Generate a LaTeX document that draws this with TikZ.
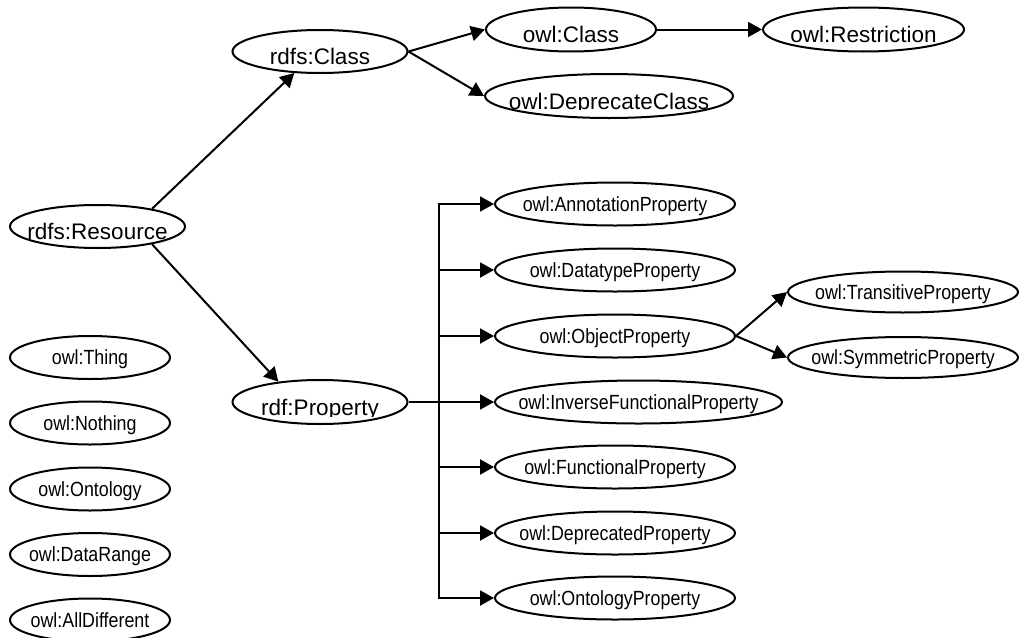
\documentclass[tikz,border=0pt]{standalone}
\usepackage{fontspec}
\setmainfont{Liberation Sans}
\newfontfamily\narrowsans{Liberation Sans}[FakeStretch=0.87]
\usetikzlibrary{arrows.meta,shapes.geometric,calc}

% centred label whose baseline sits a fixed distance below the node centre
\newcommand\entB[1]{\raisebox{-13pt}{\makebox[0pt]{#1}}}
\newcommand\entS[1]{\raisebox{-7.4pt}{\makebox[0pt]{#1}}}

\tikzset{
  ent/.style={draw, ellipse, line width=2pt, inner sep=0pt,
              text height=0pt, text depth=0pt},
  bigent/.style={ent, font=\fontsize{22.5pt}{26pt}\selectfont,
                 minimum width=175pt, minimum height=43pt},
  smallent/.style={ent, font=\narrowsans\fontsize{20.5pt}{24pt}\selectfont,
                   minimum width=240pt, minimum height=43pt},
  lonely/.style={smallent, minimum width=160pt},
  txt/.style={inner sep=0pt, text height=0pt, text depth=0pt,
              font=\fontsize{22.5pt}{26pt}\selectfont},
  arr/.style={line width=2pt, -{Triangle[length=14pt,width=15pt]}},
  ln/.style={line width=2pt}
}

\begin{document}
\begin{tikzpicture}[x=1pt, y=-1pt]
\useasboundingbox (0,0) rectangle (1019,637);

% --- class hierarchy -------------------------------------------------
\node[bigent] (res) at (97.5,226.5) {\entB{rdfs:Resource}};
\node[bigent] (cls) at (320,51.5) {\entB{rdfs:Class}};
\node[bigent, minimum width=170pt, minimum height=44pt] (owlcls) at (571,29.5) {\entB{owl:Class}};
\node[bigent, minimum width=201pt, minimum height=44pt] (restr) at (863.5,29.5) {\entB{owl:Restriction}};
\node[bigent, minimum width=248pt, minimum height=44pt] (depr) at (609,96) {};
\begin{scope}
  \clip ([xshift=-130pt,yshift=30pt]depr.center) rectangle ([xshift=130pt,yshift=-13pt]depr.center);
  \node[txt] (deprLabel) at (depr.center) {\entB{owl:DeprecateClass}};
\end{scope}

% --- property node ---------------------------------------------------
\node[bigent, minimum height=44pt] (prop) at (320,402) {};
\begin{scope}
  \clip ([xshift=-100pt,yshift=30pt]prop.center) rectangle ([xshift=100pt,yshift=-14pt]prop.center);
  \node[txt] (propLabel) at (prop.center) {\entB{rdf:Property}};
\end{scope}

% --- property subclasses ---------------------------------------------
\node[smallent] (ann) at (615,204) {\entS{owl:AnnotationProperty}};
\node[smallent] (dtp) at (615,270) {\entS{owl:DatatypeProperty}};
\node[smallent] (obj) at (615,336) {\entS{owl:ObjectProperty}};
\node[smallent, minimum width=287pt] (ifp) at (638.5,402) {\entS{owl:InverseFunctionalProperty}};
\node[smallent] (fp) at (615,467) {\entS{owl:FunctionalProperty}};
\node[smallent] (dp) at (615,533) {\entS{owl:DeprecatedProperty}};
\node[smallent] (op) at (615,598) {\entS{owl:OntologyProperty}};
\node[smallent, minimum width=230pt, minimum height=41pt] (trans) at (903,292) {\entS{owl:TransitiveProperty}};
\node[smallent, minimum width=230pt, minimum height=41pt] (sym) at (903,357.5) {\entS{owl:SymmetricProperty}};

% --- unconnected built-ins -------------------------------------------
\node[lonely] (thing) at (90,357.5) {\entS{owl:Thing}};
\node[lonely] (nothing) at (90,423) {\entS{owl:Nothing}};
\node[lonely] (onto) at (90,489) {\entS{owl:Ontology}};
\node[lonely] (drange) at (90,554.5) {\entS{owl:DataRange}};
\node[lonely] (alldiff) at (90,620) {\entS{owl:AllDifferent}};

% --- connectors ------------------------------------------------------
\draw[arr] (res.18) -- (cls.220);
\draw[arr] (res.-18) -- (prop.154);
\draw[arr] (cls.east) -- (owlcls.west);
\draw[arr] (cls.east) -- (depr.west);
\draw[arr] (owlcls.east) -- (restr.west);

\coordinate (trunk) at (439,0);
\draw[ln] (prop.east) -- (prop.east -| trunk);
\draw[arr] (op.west -| trunk) |- (ann.west);
\draw[arr] (ann.west -| trunk) |- (op.west);
\draw[arr] (dtp.west -| trunk) -- (dtp.west);
\draw[arr] (obj.west -| trunk) -- (obj.west);
\draw[arr] (ifp.west -| trunk) -- (ifp.west);
\draw[arr] (fp.west -| trunk) -- (fp.west);
\draw[arr] (dp.west -| trunk) -- (dp.west);

\draw[arr] (obj.east) -- (trans.west);
\draw[arr] (obj.east) -- (sym.west);
\end{tikzpicture}
\end{document}
